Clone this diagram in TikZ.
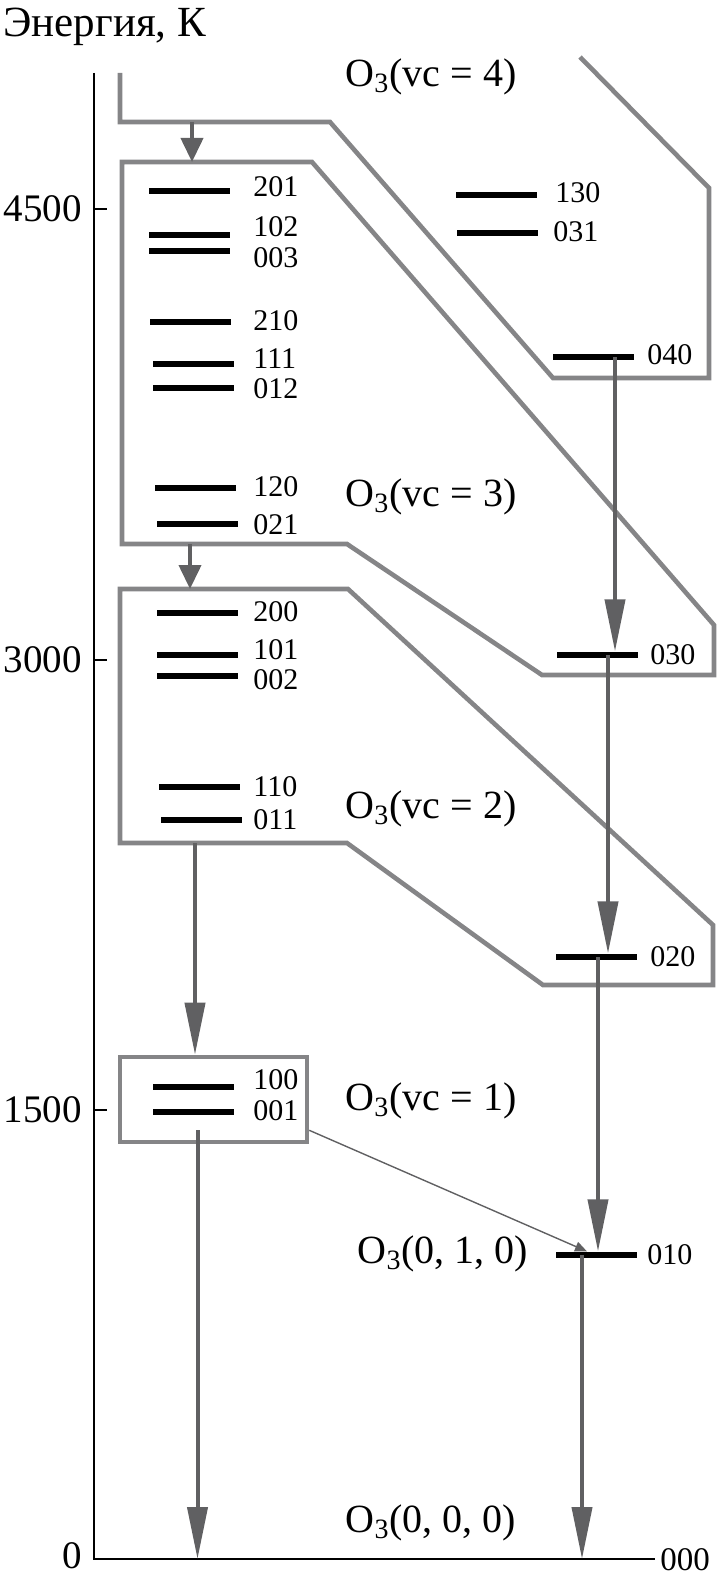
\documentclass[tikz,border=0pt]{standalone}
\usepackage{fontspec}
\setmainfont{Liberation Serif}
\usetikzlibrary{arrows.meta, positioning}
\definecolor{boxgray}{RGB}{133,133,135}
\definecolor{arrowgray}{RGB}{96,96,98}
\tikzset{
    vlev/.style={
        rectangle,
        fill=black,
        inner sep=0pt,
        minimum width=40.5pt,
        minimum height=3.2pt
    },
    vnum/.style={
        anchor=west,
        inner sep=0pt,
        font=\fontsize{15}{15}\selectfont % numbers of the levels
    },
    grp/.style={draw=boxgray, line width=2.3pt, line join=miter},
    grpname/.style={inner sep=0pt, font=\fontsize{20}{22}\selectfont},
    ticklab/.style={anchor=east, inner sep=0pt, font=\fontsize{19.5}{21}\selectfont},
    axisline/.style={line width=1.2pt},
    decay/.style={draw=arrowgray, line width=2pt, -{Triangle[length=26pt, width=10pt]}},
    decayshort/.style={draw=arrowgray, line width=2pt, -{Triangle[length=12pt, width=11pt]}},
    leak/.style={draw=arrowgray, line width=0.7pt, -{Triangle[length=6pt, width=5pt]}}
}

\begin{document}
\begin{tikzpicture}[x=0.5pt, y=-0.5pt]
    \useasboundingbox (0,0) rectangle (721,1578);

    % axis
    \coordinate (ytop) at (94,73);
    \coordinate (orig) at (94,1559);
    \coordinate (xend) at (655,1559);
    \draw[axisline] (ytop) -- (orig) -- (xend);
    \draw[axisline] (94,209) -- (107,209);
    \draw[axisline] (94,660) -- (107,660);
    \draw[axisline] (94,1110) -- (107,1110);
    \node[anchor=base west, inner sep=0pt, font=\fontsize{21.5}{23}\selectfont] (ylab) at (3,37) {Энергия, К};
    \node[ticklab] (t4500) at (82,209) {4500};
    \node[ticklab] (t3000) at (82,660) {3000};
    \node[ticklab] (t1500) at (82,1110) {1500};
    \node[ticklab] (t0) at (82,1556) {0};
    \node[vnum, font=\fontsize{16.5}{17}\selectfont] (n000) at (660,1560) {000};

    % groups
    \draw[grp] (120,73) -- (120,122) -- (330,122) -- (553,378) -- (709,378) -- (709,188) -- (580,57);
    \draw[grp] (122,162) -- (312,162) -- (714,625) -- (714,675) -- (542,675) -- (347,544) -- (122,544) -- cycle;
    \draw[grp] (120,589) -- (348,589) -- (713,925) -- (713,985) -- (543,985) -- (347,843) -- (120,843) -- cycle;
    \node[grp, rectangle, inner sep=0pt, minimum width=93.5pt, minimum height=42.5pt] (box1) at (213.5,1099.5) {};

    \node[grpname] (g4) at (431,77) {O\textsubscript{3}(vc = 4)};
    \node[grpname] (g3) at (431,497) {O\textsubscript{3}(vc = 3)};
    \node[grpname] (g2) at (431,809) {O\textsubscript{3}(vc = 2)};
    \node[grpname] (g1) at (431,1101) {O\textsubscript{3}(vc = 1)};
    \node[grpname] (g010) at (443,1254) {O\textsubscript{3}(0, 1, 0)};
    \node[grpname] (g000) at (431,1523) {O\textsubscript{3}(0, 0, 0)};

    % levels, left column
    \node[vlev] (l201) at (189,191) {};
    \node[vlev] (l102) at (189,235) {};
    \node[vlev] (l003) at (189,251) {};
    \node[vlev] (l210) at (190.5,322) {};
    \node[vlev] (l111) at (193,364) {};
    \node[vlev] (l012) at (193,388) {};
    \node[vlev] (l120) at (195,488) {};
    \node[vlev] (l021) at (197,524) {};
    \node[vlev] (l200) at (197,613) {};
    \node[vlev] (l101) at (197,655) {};
    \node[vlev] (l002) at (197,676) {};
    \node[vlev] (l110) at (199.5,787) {};
    \node[vlev] (l011) at (201.5,820) {};
    \node[vlev] (l100) at (193,1087) {};
    \node[vlev] (l001) at (193,1112) {};
    \node[vnum] (n201) at (253,187) {201};
    \node[vnum] (n102) at (253,227) {102};
    \node[vnum] (n003) at (253,258) {003};
    \node[vnum] (n210) at (253,321) {210};
    \node[vnum] (n111) at (253,359) {111};
    \node[vnum] (n012) at (253,389) {012};
    \node[vnum] (n120) at (253,487) {120};
    \node[vnum] (n021) at (253,525) {021};
    \node[vnum] (n200) at (253,612) {200};
    \node[vnum] (n101) at (253,650) {101};
    \node[vnum] (n002) at (253,680) {002};
    \node[vnum] (n110) at (253,787) {110};
    \node[vnum] (n011) at (253,820) {011};
    \node[vnum] (n100) at (253,1080) {100};
    \node[vnum] (n001) at (253,1111) {001};

    % levels, right column
    \node[vlev] (l130) at (496,195) {};
    \node[vlev] (l031) at (497.5,233) {};
    \node[vlev] (l040) at (593,357) {};
    \node[vlev] (l030) at (597.5,655) {};
    \node[vlev] (l020) at (596,957) {};
    \node[vlev] (l010) at (596,1255) {};
    \node[vnum] (n130) at (555,193) {130};
    \node[vnum] (n031) at (553,232) {031};
    \node[vnum] (n040) at (647,355) {040};
    \node[vnum] (n030) at (650,655) {030};
    \node[vnum] (n020) at (650,957) {020};
    \node[vnum] (n010) at (647,1255) {010};

    % relaxation
    \coordinate (v4out) at (192,122);
    \coordinate (v3in) at (192,162);
    \coordinate (v3out) at (190,544);
    \coordinate (v2in) at (190,589);
    \coordinate (v2out) at (195,843);
    \draw[decayshort] (v4out) -- (v3in);
    \draw[decayshort] (v3out) -- (v2in);
    \draw[decay] (v2out) -- (v2out |- box1.north);
    \draw[decay] ([xshift=-8pt,yshift=7pt]box1.south) -- ([xshift=-8pt]box1.south |- orig);

    \draw[decay] ([xshift=11pt]l040.center) -- ([xshift=11pt]l040.center |- l030.north);
    \draw[decay] ([xshift=5.25pt]l030.center) -- ([xshift=5.25pt]l030.center |- l020.north);
    \draw[decay] ([xshift=1pt]l020.center) -- ([xshift=1pt]l020.center |- l010.north);
    \draw[decay] ([xshift=-7pt]l010.center) -- ([xshift=-7pt]l010.center |- orig);
    \draw[leak] ([yshift=7pt]box1.south east) -- ([xshift=-4.5pt]l010.north);

\end{tikzpicture}
\end{document}
